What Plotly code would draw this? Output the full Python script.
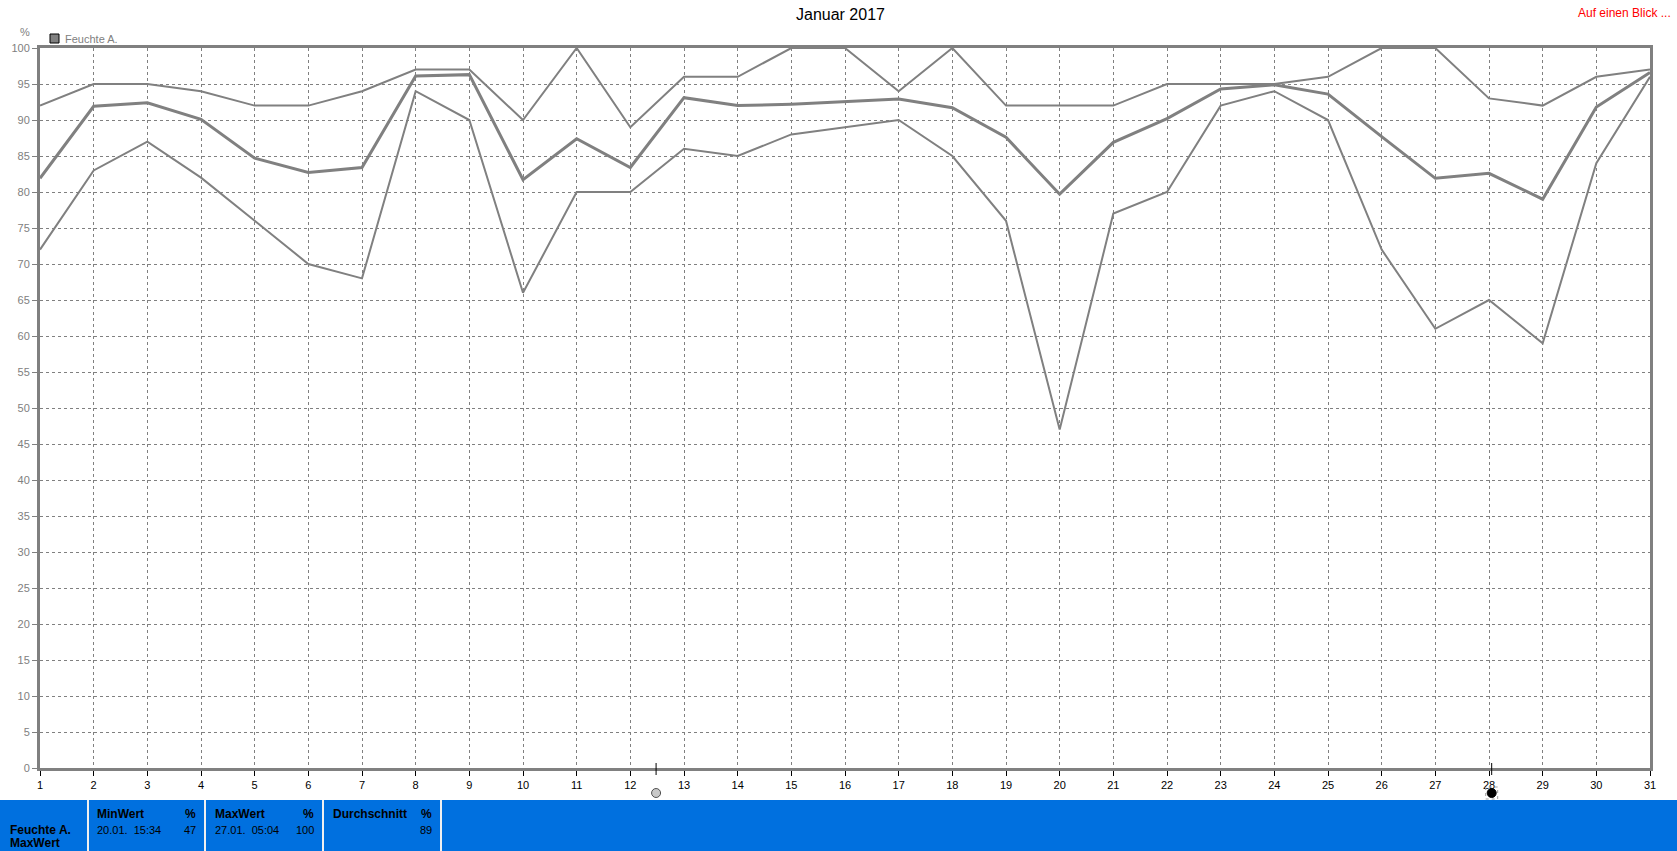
import plotly.graph_objects as go

# ---------------- data ----------------
days = list(range(1, 32))
hum_max = [92, 95, 95, 94, 92, 92, 94, 97, 97, 90, 100, 89, 96, 96, 100, 100,
           94, 100, 92, 92, 92, 95, 95, 95, 96, 100, 100, 93, 92, 96, 97]
hum_mean = [81.9, 91.9, 92.4, 90.1, 84.7, 82.7, 83.4, 96.1, 96.3, 81.7, 87.4, 83.4,
            93.1, 92.0, 92.2, 92.6, 92.9, 91.7, 87.6, 79.7, 86.9, 90.2, 94.3, 94.9,
            93.6, 87.7, 81.9, 82.6, 79.0, 91.8, 96.6]
hum_min = [72, 83, 87, 82, 76, 70, 68, 94, 90, 66, 80, 80, 86, 85, 88, 89, 90, 85,
           76, 47, 77, 80, 92, 94, 90, 72, 61, 65, 59, 84, 96]
y_ticks = list(range(0, 101, 5))
moon_days = [12.48, 28.05]
moon_fill = ["#C8C8C8", "#000000"]
moon_line = ["#505050", "#000000"]

title_text = "Januar 2017"
series_name = "Feuchte A."
unit = "%"
stat_headers = ["MinWert", "MaxWert", "Durchschnitt"]
stat_times = ["20.01.  15:34", "27.01.  05:04", ""]
stat_values = ["47", "100", "89"]

# ---------------- geometry helpers ----------------
W, H = 1677, 851
PL, PR, PT, PB = 40, 1650, 48, 768
PW, PH = PR - PL, PB - PT


def px(x):
    return (x - PL) / PW


def py(y):
    return (PB - y) / PH


GREY = "#808080"
FONT = "Liberation Sans, Arial, sans-serif"

fig = go.Figure()
for vals, w in [(hum_max, 2), (hum_min, 2), (hum_mean, 3)]:
    fig.add_trace(go.Scatter(x=days, y=vals, mode="lines",
                             line=dict(color=GREY, width=w),
                             hoverinfo="x+y", showlegend=False))

shapes = []
annotations = []

# bottom statistics panel
BLUE = "#0070DF"
shapes.append(dict(type="rect", xref="paper", yref="paper",
                   x0=px(0), x1=px(W), y0=py(H), y1=py(800),
                   fillcolor=BLUE, line=dict(width=0), layer="above"))
for sx in [88, 205, 323, 441]:
    shapes.append(dict(type="line", xref="paper", yref="paper",
                       x0=px(sx), x1=px(sx), y0=py(H), y1=py(800),
                       line=dict(color="#F0F0F0", width=2), layer="above"))

annotations.append(dict(text="<b>" + series_name + "</b>", xref="paper", yref="paper",
                        x=px(8), y=py(830), xanchor="left", yanchor="middle",
                        showarrow=False, font=dict(family=FONT, size=12, color="black")))
annotations.append(dict(text="<b>MaxWert</b>", xref="paper", yref="paper",
                        x=px(8), y=py(843), xanchor="left", yanchor="middle",
                        showarrow=False, font=dict(family=FONT, size=12, color="black")))
box_left = [95, 213, 331]
box_right = [198, 316, 434]
for i in range(3):
    annotations.append(dict(text="<b>" + stat_headers[i] + "</b>", xref="paper", yref="paper",
                            x=px(box_left[i]), y=py(814), xanchor="left", yanchor="middle",
                            showarrow=False, font=dict(family=FONT, size=12, color="black")))
    annotations.append(dict(text="<b>" + unit + "</b>", xref="paper", yref="paper",
                            x=px(box_right[i]), y=py(814), xanchor="right", yanchor="middle",
                            showarrow=False, font=dict(family=FONT, size=12, color="black")))
    if stat_times[i]:
        annotations.append(dict(text=stat_times[i].replace(" ", "&nbsp;"), xref="paper", yref="paper",
                                x=px(box_left[i]), y=py(830), xanchor="left", yanchor="middle",
                                showarrow=False, font=dict(family=FONT, size=11, color="black")))
    annotations.append(dict(text=stat_values[i], xref="paper", yref="paper",
                            x=px(box_right[i]), y=py(830), xanchor="right", yanchor="middle",
                            showarrow=False, font=dict(family=FONT, size=11, color="black")))

# legend
shapes.append(dict(type="rect", xref="paper", yref="paper",
                   x0=px(50), x1=px(59), y0=py(43), y1=py(34),
                   fillcolor=GREY, line=dict(color="black", width=1)))
annotations.append(dict(text=series_name, xref="paper", yref="paper",
                        x=px(63), y=py(39), xanchor="left", yanchor="middle",
                        showarrow=False, font=dict(family=FONT, size=11, color=GREY)))
annotations.append(dict(text=unit, xref="paper", yref="paper",
                        x=px(25), y=py(32), xanchor="center", yanchor="middle",
                        showarrow=False, font=dict(family=FONT, size=11, color=GREY)))

# title and link
annotations.append(dict(text=title_text, xref="paper", yref="paper",
                        x=px(840), y=py(15), xanchor="center", yanchor="middle",
                        showarrow=False, font=dict(family=FONT, size=16, color="black")))
annotations.append(dict(text="Auf einen Blick ...", xref="paper", yref="paper",
                        x=px(1673), y=py(13), xanchor="right", yanchor="middle",
                        showarrow=False, font=dict(family=FONT, size=12, color="red")))

# moon phase markers
for d, fc, lc in zip(moon_days, moon_fill, moon_line):
    shapes.append(dict(type="line", xref="x", yref="paper", x0=d, x1=d,
                       y0=py(775), y1=py(763), line=dict(color="black", width=1)))
    shapes.append(dict(type="circle", xref="x", yref="paper",
                       xsizemode="pixel", ysizemode="pixel",
                       xanchor=d, yanchor=py(793),
                       x0=-4.5, x1=4.5, y0=-4.5, y1=4.5,
                       fillcolor=fc, line=dict(color=lc, width=1)))
shapes.append(dict(type="rect", xref="x", yref="paper",
                   xsizemode="pixel", ysizemode="pixel",
                   xanchor=moon_days[1], yanchor=py(793),
                   x0=-6, x1=6, y0=-6, y1=6,
                   line=dict(color="#A0A0A0", width=1, dash="dot")))

fig.update_layout(
    width=W, height=H,
    margin=dict(l=PL, r=W - PR, t=PT, b=H - PB, pad=0),
    paper_bgcolor="white", plot_bgcolor="white",
    font=dict(family=FONT, size=11, color="black"),
    showlegend=False,
    shapes=shapes, annotations=annotations,
    xaxis=dict(range=[1, 31], tickvals=days, ticktext=[str(d) for d in days],
               showgrid=True, gridcolor=GREY, griddash="3px,3px", gridwidth=1,
               showline=True, linecolor=GREY, linewidth=3, mirror=True,
               ticks="outside", ticklen=5, tickcolor="black", tickwidth=1,
               tickfont=dict(family=FONT, size=11, color="black"),
               zeroline=False, fixedrange=True, automargin=False),
    yaxis=dict(range=[0, 100], tickvals=y_ticks, ticktext=[str(v) for v in y_ticks],
               showgrid=True, gridcolor=GREY, griddash="3px,3px", gridwidth=1,
               showline=True, linecolor=GREY, linewidth=3, mirror=True,
               ticks="outside", ticklen=5, tickcolor=GREY, tickwidth=1,
               tickfont=dict(family=FONT, size=11, color=GREY),
               zeroline=False, fixedrange=True, automargin=False),
)

fig.write_html("out.html", config={"displayModeBar": False},
               post_script="document.body.style.margin='0';document.body.style.overflow='hidden';")
